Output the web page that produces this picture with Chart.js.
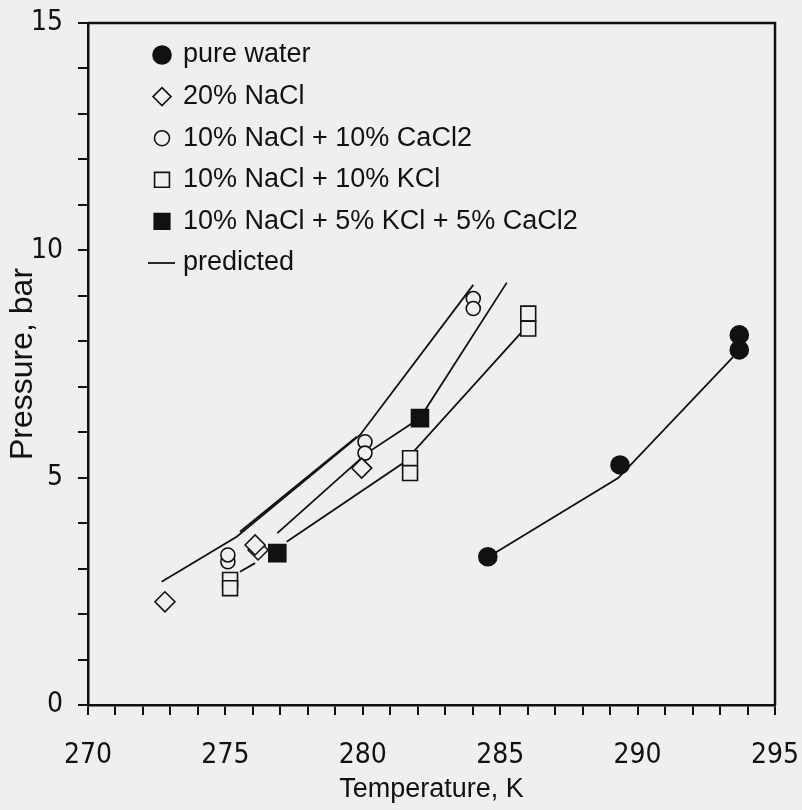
<!DOCTYPE html>
<html>
<head>
<meta charset="utf-8">
<script src="https://cdn.jsdelivr.net/npm/chart.js@4.4.1/dist/chart.umd.min.js"></script>
<style>
  html, body { margin: 0; padding: 0; background: #efefef; }
</style>
</head>
<body>
<canvas id="chart" width="802" height="810"></canvas>
<script>
  // measured points, temperature in K and pressure in bar
  var pureT  = [284.55, 289.36, 293.70, 293.70];
  var pureP  = [3.26, 5.28, 8.14, 7.81];
  var naclT  = [272.80, 276.19, 276.08, 279.96];
  var naclP  = [2.27, 3.41, 3.52, 5.21];
  var cacl2T = [275.09, 275.09, 280.08, 280.08, 284.02, 284.02];
  var cacl2P = [3.15, 3.30, 5.79, 5.54, 8.94, 8.72];
  var kclT   = [275.17, 275.17, 281.72, 281.72, 286.02, 286.02];
  var kclP   = [2.75, 2.57, 5.43, 5.10, 8.61, 8.28];
  var mixT   = [276.89, 282.08];
  var mixP   = [3.34, 6.31];

  // predicted curves
  var predT = [
    [272.68, 275.41, 279.90, 284.02],
    [275.53, 279.78],
    [276.89, 280.15, 282.08, 285.24],
    [277.23, 281.47, 286.02],
    [275.53, 276.08],
    [284.55, 289.29, 293.47]
  ];
  var predP = [
    [2.71, 3.70, 5.94, 9.24],
    [3.81, 5.90],
    [3.78, 5.54, 6.31, 9.29],
    [3.59, 5.32, 8.36],
    [2.93, 3.12],
    [3.25, 4.99, 7.65]
  ];

  var seriesLabels = ["pure water", "20% NaCl", "10% NaCl + 10% CaCl2", "10% NaCl + 10% KCl", "10% NaCl + 5% KCl + 5% CaCl2"];
  var predLabel = "predicted";

  var paper = "#efefef";
  var ink = "#111";

  function pts(xs, ys) {
      var out = [];
      for (var i = 0; i < xs.length; i++) out.push({x: xs[i], y: ys[i]});
      return out;
  }

  var markers = [
    {t: pureT,  p: pureP,  style: "circle",  r: 9,  lr: 9,  fill: ink},
    {t: naclT,  p: naclP,  style: "rectRot", r: 10, lr: 9,  fill: paper},
    {t: cacl2T, p: cacl2P, style: "circle",  r: 7,  lr: 7.5, fill: paper},
    {t: kclT,   p: kclP,   style: "rect",    r: 10.5, lr: 10.5, fill: paper},
    {t: mixT,   p: mixP,   style: "rect",    r: 12, lr: 11, fill: ink}
  ];

  var datasets = [];
  markers.forEach(function(m, i) {
      datasets.push({
          label: seriesLabels[i],
          data: pts(m.t, m.p),
          showLine: false,
          pointStyle: m.style,
          pointRadius: m.r,
          pointBackgroundColor: m.fill,
          pointBorderColor: ink,
          pointBorderWidth: 1.6,
          order: 0
      });
  });
  for (var k = 0; k < predT.length; k++) {
      datasets.push({
          label: predLabel,
          data: pts(predT[k], predP[k]),
          showLine: true,
          pointRadius: 0,
          borderColor: ink,
          borderWidth: 1.8,
          fill: false,
          order: 1
      });
  }

  // box on top and right + legend inside the plot
  var framePlugin = {
      id: "frame",
      beforeDraw: function(chart) {
          var ctx = chart.ctx;
          ctx.save();
          ctx.fillStyle = paper;
          ctx.fillRect(0, 0, chart.width, chart.height);
          ctx.restore();
      },
      afterDraw: function(chart) {
          var ctx = chart.ctx, a = chart.chartArea;
          ctx.save();
          ctx.strokeStyle = ink;
          ctx.lineWidth = 2.5;
          ctx.beginPath();
          ctx.moveTo(a.left, a.top);
          ctx.lineTo(a.right, a.top);
          ctx.lineTo(a.right, a.bottom);
          ctx.stroke();

          var x0 = 162, y0 = 55, dy = 41.6;
          ctx.font = "27px 'Liberation Sans', Arial, sans-serif";
          ctx.textBaseline = "middle";
          markers.forEach(function(m, i) {
              var y = y0 + i * dy;
              ctx.fillStyle = m.fill;
              ctx.strokeStyle = ink;
              ctx.lineWidth = 1.6;
              Chart.helpers.drawPoint(ctx, {
                  pointStyle: m.style,
                  radius: m.lr,
                  rotation: 0,
                  borderWidth: 1.6
              }, x0, y);
              ctx.fillStyle = ink;
              ctx.fillText(seriesLabels[i], 183, y);
          });
          var yl = y0 + 5 * dy;
          ctx.beginPath();
          ctx.lineWidth = 1.8;
          ctx.moveTo(148, yl);
          ctx.lineTo(175, yl);
          ctx.stroke();
          ctx.fillText(predLabel, 183, yl);
          ctx.restore();
      }
  };

  var tickFont = {family: "'Liberation Sans Narrow', 'DejaVu Sans Condensed', sans-serif", size: 28};

  new Chart("chart", {
      type: "scatter",
      data: {datasets: datasets},
      options: {
          responsive: false,
          animation: false,
          layout: {padding: {left: 0, top: 23, right: 27, bottom: 0}},
          plugins: {legend: {display: false}, tooltip: {enabled: false}},
          scales: {
              x: {
                  type: "linear",
                  min: 270, max: 295,
                  afterFit: function(s) { s.height = 105; s.paddingLeft = 0; s.paddingRight = 0; },
                  ticks: {
                      stepSize: 1,
                      color: ink,
                      font: tickFont,
                      padding: 24,
                      maxRotation: 0,
                      autoSkip: false,
                      callback: function(v) { return v % 5 === 0 ? v : ""; }
                  },
                  grid: {drawOnChartArea: false, drawTicks: true, tickLength: 10, color: ink, lineWidth: 2},
                  border: {display: true, color: ink, width: 2.5},
                  title: {
                      display: true,
                      text: "Temperature, K",
                      color: ink,
                      font: {family: "'Liberation Sans', Arial, sans-serif", size: 27},
                      padding: {top: 0, bottom: 4}
                  }
              },
              y: {
                  type: "linear",
                  min: 0, max: 15,
                  afterFit: function(s) { s.width = 88; s.paddingTop = 0; s.paddingBottom = 0; },
                  ticks: {
                      stepSize: 1,
                      color: ink,
                      font: tickFont,
                      padding: 15,
                      autoSkip: false,
                      callback: function(v) { return v % 5 === 0 ? v : ""; }
                  },
                  grid: {drawOnChartArea: false, drawTicks: true, tickLength: 10, color: ink, lineWidth: 2},
                  border: {display: true, color: ink, width: 2.5},
                  title: {
                      display: true,
                      text: "Pressure, bar",
                      color: ink,
                      font: {family: "'Liberation Sans', Arial, sans-serif", size: 32},
                      padding: {top: 4, bottom: 0}
                  }
              }
          }
      },
      plugins: [framePlugin]
  });
</script>
</body>
</html>
